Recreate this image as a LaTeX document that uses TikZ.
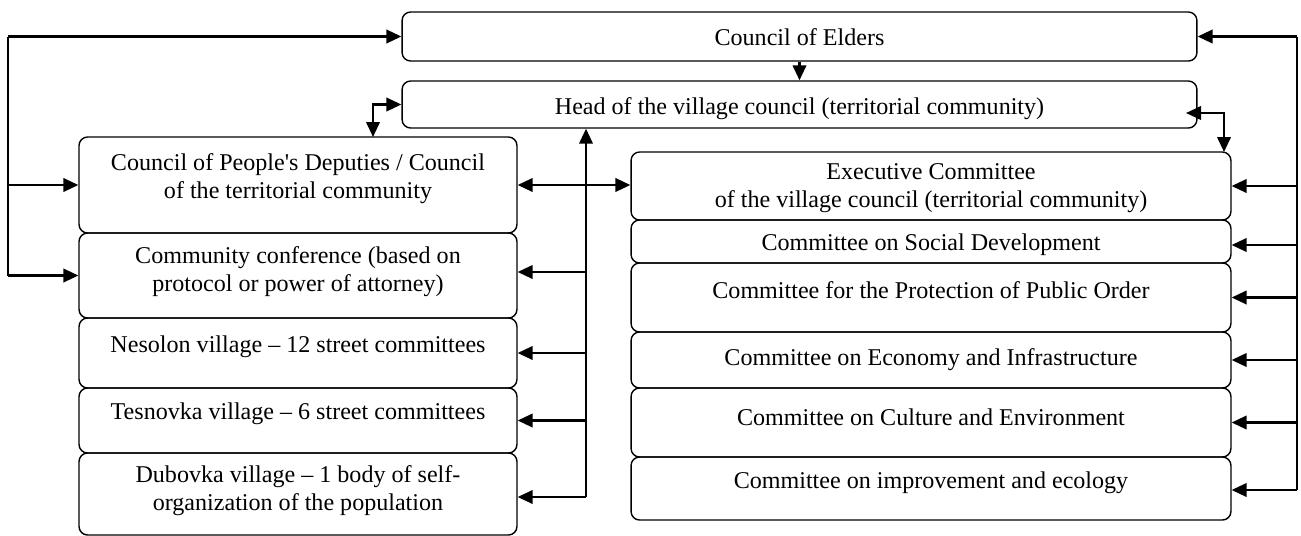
\documentclass[tikz,border=0pt]{standalone}
\usepackage{fontspec}
\setmainfont{Liberation Serif}[Ligatures=TeXOff]
\usetikzlibrary{positioning,arrows.meta}

\begin{document}
\begin{tikzpicture}[x=0.02cm,y=-0.02cm,
    box/.style={draw,rounded corners=0.17cm,line width=0.8pt,inner sep=0pt},
    txt/.style={align=center,font=\fontsize{13.7}{16}\selectfont,inner sep=0pt},
    con/.style={line width=1.3pt},
    arr/.style={con,-{Triangle[length=0.3cm,width=0.27cm]}},
    arrs/.style={con,{Triangle[length=0.3cm,width=0.27cm]}-{Triangle[length=0.3cm,width=0.27cm]}}]
    \useasboundingbox[fill=white] (0,0) rectangle (1301,535);
    % top row
    \node[box,minimum width=15.9cm,minimum height=0.98cm] (elders) at (799.5,36.5) {};
    \node[txt] (eldersT) at (799.5,37) {Council of Elders};
    \node[box,minimum width=15.9cm,minimum height=0.94cm] (head) at (799.5,104.5) {};
    \node[txt] (headT) at (799.5,109) {Head of the village council (territorial community)};
    % left column
    \node[box,minimum width=8.76cm,minimum height=1.92cm] (deputies) at (298,185) {};
    \node[txt] (deputiesT) at (298,179) {Council of People's Deputies / Council\\of the territorial community};
    \node[box,minimum width=8.76cm,minimum height=1.7cm] (conf) at (298,275.5) {};
    \node[txt] (confT) at (298,272) {Community conference (based on\\protocol or power of attorney)};
    \node[box,minimum width=8.76cm,minimum height=1.4cm] (nesolon) at (298,353) {};
    \node[txt] (nesolonT) at (298,347) {Nesolon village – 12 street committees};
    \node[box,minimum width=8.76cm,minimum height=1.3cm] (tesnovka) at (298,420.5) {};
    \node[txt] (tesnovkaT) at (298,414) {Tesnovka village – 6 street committees};
    \node[box,minimum width=8.76cm,minimum height=1.64cm] (dubovka) at (298,494) {};
    \node[txt] (dubovkaT) at (298,491) {Dubovka village – 1 body of self-\\organization of the population};
    % right column
    \node[box,minimum width=12cm,minimum height=1.36cm] (exec) at (931,186) {};
    \node[txt] (execT) at (931,188) {Executive Committee\\of the village council (territorial community)};
    \node[box,minimum width=12cm,minimum height=0.86cm] (social) at (931,241.5) {};
    \node[txt] (socialT) at (931,245) {Committee on Social Development};
    \node[box,minimum width=12cm,minimum height=1.38cm] (order) at (931,297.5) {};
    \node[txt] (orderT) at (931,290) {Committee for the Protection of Public Order};
    \node[box,minimum width=12cm,minimum height=1.12cm] (economy) at (931,360) {};
    \node[txt] (economyT) at (931,360) {Committee on Economy and Infrastructure};
    \node[box,minimum width=12cm,minimum height=1.38cm] (culture) at (931,422.5) {};
    \node[txt] (cultureT) at (931,417) {Committee on Culture and Environment};
    \node[box,minimum width=12cm,minimum height=1.26cm] (ecology) at (931,488.5) {};
    \node[txt] (ecologyT) at (931,483) {Committee on improvement and ecology};
    % bus lines
    \coordinate (ltop) at (8,36.5);
    \coordinate (lbot) at (8,275.5);
    \coordinate (rtop) at (1297,36.5);
    \coordinate (rbot) at (1297,490);
    \coordinate (mbot) at (586,497);
    \coordinate (hdep) at (373,137);
    \coordinate (hexe) at (1186,113);
    \coordinate (hexd) at (1224,152);
    % left
    \draw[con] (ltop) -- (lbot);
    \draw[arr] (ltop) -- (elders.west);
    \draw[arr] (ltop |- deputies.west) -- (deputies.west);
    \draw[arr] (lbot) -- (conf.west);
    % right
    \draw[con] (rtop) -- (rbot);
    \draw[arr] (rtop) -- (elders.east);
    \draw[arr] (rtop |- exec.east) -- (exec.east);
    \draw[arr] (rtop |- socialT) -- (socialT -| social.east);
    \draw[arr] (rtop |- order.east) -- (order.east);
    \draw[arr] (rtop |- economy.east) -- (economy.east);
    \draw[arr] (rtop |- culture.east) -- (culture.east);
    \draw[arr] (rbot) -- (rbot -| ecology.east);
    % middle
    \draw[arr] (mbot) -- (mbot |- head.south);
    \draw[arr] (mbot |- confT) -- (confT -| conf.east);
    \draw[arr] (mbot |- nesolon.east) -- (nesolon.east);
    \draw[arr] (mbot |- tesnovka.east) -- (tesnovka.east);
    \draw[arr] (mbot) -- (mbot -| dubovka.east);
    % links
    \draw[arr] (elders.south) -- (head.north);
    \draw[arrs] (deputies.east) -- (deputies.east -| exec.west);
    \draw[arrs] (head.west) -| (hdep);
    \draw[arrs] (hexe) -| (hexd);
\end{tikzpicture}
\end{document}
